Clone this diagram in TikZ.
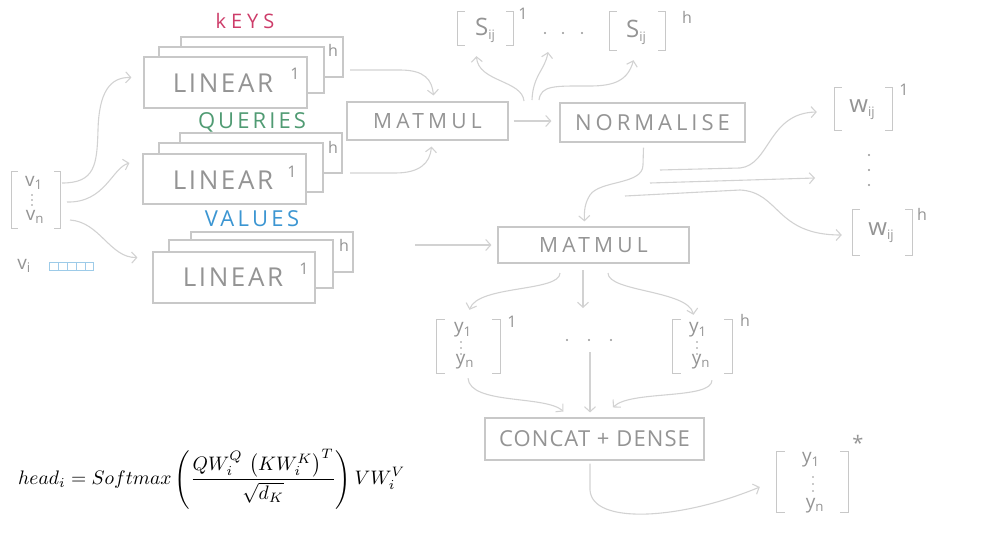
\documentclass[tikz,border=0pt]{standalone}
\usepackage{fontspec}
\usepackage{graphicx}
\usetikzlibrary{arrows.meta}
\newfontfamily\hand{Open Sans}
\definecolor{boxgray}{RGB}{200,200,200}
\definecolor{linegray}{RGB}{210,210,210}
\definecolor{textgray}{RGB}{148,148,148}
\definecolor{keysred}{RGB}{205,60,105}
\definecolor{qgreen}{RGB}{80,155,115}
\definecolor{vblue}{RGB}{60,150,210}
\newcommand\hf[2]{\hand\fontsize{#1}{#1}\selectfont\addfontfeature{LetterSpace=#2}}
\newcommand\mybrk[2][7]{%
  \draw[brkline] ([xshift=#1pt]#2.north west) -- (#2.north west) -- (#2.south west) -- ([xshift=#1pt]#2.south west);
  \draw[brkline] ([xshift=-#1pt]#2.north east) -- (#2.north east) -- (#2.south east) -- ([xshift=-#1pt]#2.south east);}
\tikzset{
  box/.style={draw=boxgray, line width=1.1pt, fill=white, inner sep=0},
  arr/.style={draw=linegray, line width=1.1pt, -{Straight Barb[length=5pt,width=11pt]}},
  brkline/.style={draw=boxgray, line width=1.1pt},
  brk/.style={inner sep=0},
  lbl/.style={text=textgray, inner sep=0, font=\hf{26}{10}},
  sup/.style={text=textgray, inner sep=0, font=\hf{16}{0}},
  vtxt/.style={text=textgray, inner sep=0, font=\hf{19}{0}},
  dot/.style={circle, fill=textgray, inner sep=0, minimum size=2.2pt},
}
\begin{document}
\begin{tikzpicture}[x=1pt,y=-1pt]
\useasboundingbox (0,0) rectangle (989,555);

% ---------- titles ----------
\node[text=keysred, inner sep=0, font=\hf{20}{25}] (tk) at (245,21) {kEYS};
\node[text=qgreen, inner sep=0, font=\hf{22}{14}] (tq) at (252,122) {QUERIES};
\node[text=vblue, inner sep=0, font=\hf{22}{15}] (tv) at (252,219) {VALUES};

% ---------- linear stacks ----------
\node[box, minimum width=162pt, minimum height=40pt] (kB) at (262,57) {};
\node[box, minimum width=165pt, minimum height=46pt] (kM) at (241.5,70) {};
\node[box, minimum width=163pt, minimum height=51pt] (kF) at (225.5,82.5) {};
\node[lbl] (kL) at (223,83) {LINEAR};
\node[sup] (k1) at (295,74) {1};
\node[sup] (kh) at (333,50) {h};

\node[box, minimum width=162pt, minimum height=40pt] (qB) at (261,153) {};
\node[box, minimum width=164pt, minimum height=49pt] (qM) at (241,167.5) {};
\node[box, minimum width=163pt, minimum height=50pt] (qF) at (224.5,179) {};
\node[lbl] (qL) at (223,180) {LINEAR};
\node[sup] (q1) at (292,172) {1};
\node[sup] (qh) at (333,147) {h};

\node[box, minimum width=162pt, minimum height=40pt] (vB) at (272,252) {};
\node[box, minimum width=164pt, minimum height=48pt] (vM) at (251,264) {};
\node[box, minimum width=162pt, minimum height=51pt] (vF) at (234,277.5) {};
\node[lbl] (vL) at (233,277) {LINEAR};
\node[sup] (v1s) at (304,269) {1};
\node[sup] (vh) at (344,245) {h};

% ---------- input vector ----------
\node[brk, minimum width=48pt, minimum height=56pt] (vin) at (36,200) {};
\mybrk[6]{vin}
\node[vtxt] (vone) at (34,183) {v\textsubscript{1}};
\node[dot, minimum size=1.6pt] (vd1) at (32,195) {};
\node[dot, minimum size=1.6pt] (vd2) at (32,200) {};
\node[dot, minimum size=1.6pt] (vd3) at (32,205) {};
\node[vtxt] (vn) at (35,217) {v\textsubscript{n}};
\node[vtxt] (vi) at (24,266) {v\textsubscript{i}};
\node[draw=vblue!50, line width=0.8pt, minimum width=44pt, minimum height=8pt, inner sep=0] (vrect) at (71,266) {};
\foreach \xx in {58,67,76,85} \draw[vblue!50, line width=0.8pt] (\xx,262) -- (\xx,270);

\coordinate (i1) at (62,183);
\coordinate (i2) at (67,202);
\coordinate (i3) at (70,220);
\draw[arr] (i1) .. controls (95,183) and (97,165) .. (98,130) .. controls (99,92) and (110,77) .. ([xshift=-12pt,yshift=5pt]kF.west);
\draw[arr] (i2) .. controls (105,203) and (112,168) .. ([xshift=-13pt,yshift=16pt]qF.west);
\draw[arr] (i3) .. controls (100,222) and (110,258) .. ([xshift=-15pt,yshift=20pt]vF.west);

% ---------- matmul 1 / normalise ----------
\node[box, minimum width=161pt, minimum height=38pt, text=textgray, font=\hf{21}{20}] (mm1) at (427.5,121) {MATMUL};
\node[box, minimum width=185pt, minimum height=39pt, text=textgray, font=\hf{22}{18}] (norm) at (652.5,122.5) {NORMALISE};

\coordinate (ko) at (350,70);
\coordinate (qo) at (350,173);
\draw[arr] (ko) -- (400,70) .. controls (425,70) and (432,80) .. ([xshift=6pt,yshift=6pt]mm1.north);
\draw[arr] (qo) -- (395,173) .. controls (420,173) and (430,163) .. ([xshift=4pt,yshift=-6pt]mm1.south);
\draw[arr] ([xshift=5pt]mm1.east) -- ([xshift=-8pt]mm1.east -| norm.west);

% ---------- scores ----------
\node[brk, minimum width=55pt, minimum height=33pt] (s1) at (485.5,28.5) {};
\mybrk[7]{s1}
\node[text=textgray, inner sep=0, font=\hf{24}{0}] (s1t) at (485,30) {S\raisebox{-4pt}{\fontsize{13}{13}\selectfont ij}};
\node[sup] (s1s) at (523,14) {1};
\node[dot] (sd1) at (545,33) {};
\node[dot] (sd2) at (563,33) {};
\node[dot] (sd3) at (582,33) {};
\node[brk, minimum width=55pt, minimum height=38pt] (sh) at (637.5,31) {};
\mybrk[7]{sh}
\node[text=textgray, inner sep=0, font=\hf{24}{0}] (sht) at (636,32) {S\raisebox{-4pt}{\fontsize{13}{13}\selectfont ij}};
\node[sup] (shs) at (687,17) {h};

\coordinate (b1) at (524,101);
\coordinate (b2) at (532,100);
\coordinate (b3) at (539,100);
\draw[arr] (b1) .. controls (522,80) and (478,82) .. ([xshift=-9pt,yshift=-11pt]s1.south);
\draw[arr] (b2) .. controls (533,75) and (545,70) .. ([xshift=3pt,yshift=-19pt]sd1.center);
\draw[arr] (b3) .. controls (541,85) and (555,86) .. (590,86) .. controls (615,86) and (628,80) .. ([xshift=-4pt,yshift=-10pt]sh.south);

% ---------- weights ----------
\node[brk, minimum width=57pt, minimum height=42pt] (w1) at (863.5,109) {};
\mybrk[7]{w1}
\node[text=textgray, inner sep=0, font=\hf{24}{0}] (w1t) at (862,110) {w\raisebox{-4pt}{\fontsize{13}{13}\selectfont ij}};
\node[sup] (w1s) at (904,90) {1};
\node[dot] (wd1) at (869,155) {};
\node[dot] (wd2) at (869,170) {};
\node[dot] (wd3) at (869,185) {};
\node[brk, minimum width=59pt, minimum height=45pt] (wh) at (882.5,232.5) {};
\mybrk[7]{wh}
\node[text=textgray, inner sep=0, font=\hf{24}{0}] (wht) at (881,233) {w\raisebox{-4pt}{\fontsize{13}{13}\selectfont ij}};
\node[sup] (whs) at (922,214) {h};

\coordinate (n1) at (660,170);
\coordinate (n2) at (650,183);
\coordinate (n3) at (625,196);
\draw[arr] (n1) -- (740,168) .. controls (770,165) and (768,113) .. ([xshift=-18pt,yshift=-3pt]w1.west);
\draw[arr] (n2) -- ([xshift=-54pt,yshift=7pt]wd3.center);
\draw[arr] (n3) -- (740,190) .. controls (780,192) and (775,235) .. ([xshift=-11pt,yshift=-2.5pt]wh.west);

% ---------- matmul 2 ----------
\node[box, minimum width=191pt, minimum height=36pt, text=textgray, font=\hf{21}{20}] (mm2) at (593.5,245) {MATMUL};
\coordinate (vo) at (415,245);
\draw[arr] (vo) -- ([xshift=-6pt]mm2.west);
\draw[arr] ([xshift=-9pt,yshift=-5pt]norm.south) -- (643,165) .. controls (643,185) and (600,180) .. (590,195) .. controls (585,203) and (584,210) .. ([xshift=-9pt,yshift=5pt]mm2.north);

% ---------- head outputs ----------
\node[brk, minimum width=63pt, minimum height=53pt] (y1) at (468.5,346.5) {};
\mybrk[8]{y1}
\node[vtxt] (y1a) at (463,330) {y\textsubscript{1}};
\node[dot, minimum size=1.6pt] (y1d1) at (461,342) {};
\node[dot, minimum size=1.6pt] (y1d2) at (461,348) {};
\node[dot, minimum size=1.6pt] (y1d3) at (461,354) {};
\node[vtxt] (y1b) at (465,362) {y\textsubscript{n}};
\node[sup] (y1s) at (512,322) {1};

\node[dot] (md1) at (567,340) {};
\node[dot] (md2) at (589,340) {};
\node[dot] (md3) at (611,340) {};

\node[brk, minimum width=59pt, minimum height=53pt] (yh) at (702.5,346.5) {};
\mybrk[8]{yh}
\node[vtxt] (yha) at (698,330) {y\textsubscript{1}};
\node[dot, minimum size=1.6pt] (yhd1) at (697,342) {};
\node[dot, minimum size=1.6pt] (yhd2) at (697,348) {};
\node[dot, minimum size=1.6pt] (yhd3) at (697,354) {};
\node[vtxt] (yhb) at (701,362) {y\textsubscript{n}};
\node[sup] (yhs) at (745,320) {h};

\coordinate (o1) at (560,273);
\coordinate (o2) at (583,270);
\coordinate (o3) at (608,273);
\draw[arr] (o1) .. controls (560,292) and (478,285) .. ([xshift=1pt,yshift=10pt]y1.north);
\draw[arr] (o2) -- ([xshift=-6pt,yshift=32pt]md2.center);
\draw[arr] (o3) .. controls (608,292) and (688,290) .. ([xshift=-9pt,yshift=5pt]yh.north);

% ---------- concat ----------
\node[box, minimum width=219pt, minimum height=42pt, text=textgray, font=\hf{22}{5}] (cat) at (594.5,439) {CONCAT + DENSE};
\coordinate (c2) at (590,352);
\draw[arr] ([xshift=-0.5pt,yshift=-5pt]y1.south) .. controls (470,405) and (545,395) .. ([xshift=-31pt,yshift=6pt]cat.north);
\draw[arr] (c2) -- ([xshift=-4.5pt,yshift=5pt]cat.north);
\draw[arr] ([xshift=9.5pt,yshift=-7pt]yh.south) .. controls (712,400) and (630,390) .. ([xshift=18.5pt,yshift=10pt]cat.north);

% ---------- final output ----------
\node[brk, minimum width=71pt, minimum height=60pt] (ys) at (812.5,482) {};
\mybrk[8]{ys}
\node[vtxt] (ysa) at (811,460) {y\textsubscript{1}};
\node[dot, minimum size=1.6pt] (ysd1) at (813,477) {};
\node[dot, minimum size=1.6pt] (ysd2) at (813,484) {};
\node[dot, minimum size=1.6pt] (ysd3) at (813,491) {};
\node[vtxt] (ysb) at (815,506) {y\textsubscript{n}};
\node[sup, font=\hf{20}{0}] (yss) at (858,443) {*};
\draw[arr] ([xshift=-4.5pt,yshift=-3pt]cat.south) -- (590,490) .. controls (592,525) and (680,520) .. ([xshift=-17pt,yshift=-5pt]ys.west);

% ---------- formula ----------
\node[anchor=west, inner sep=0] (eq) at (18,479) {\resizebox{387pt}{!}{$\displaystyle head_i = Softmax\left(\frac{QW_i^Q\,\left(KW_i^K\right)^T}{\sqrt{d_K}}\right)VW_i^V$}};
\end{tikzpicture}
\end{document}
